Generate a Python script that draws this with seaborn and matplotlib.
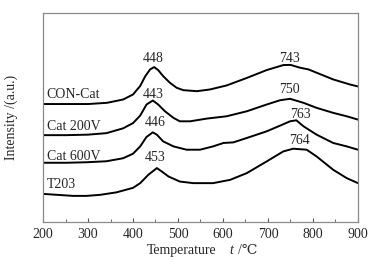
import numpy as np
import pandas as pd
import matplotlib
matplotlib.use("Agg")
import matplotlib.pyplot as plt
import seaborn as sns
from matplotlib.ticker import MultipleLocator

# ---------- Data ----------
con_temp = [200, 252, 300, 342, 378, 400, 416, 427, 438, 447, 456, 467, 482, 497, 512, 542,
            571, 608, 653, 697, 734, 750, 771, 790, 808, 845, 882, 900]
con_int = [117.5, 117.5, 117.5, 118.7, 122, 127, 135.5, 145, 152, 154.3, 151.3, 145.3, 138.7,
           133.7, 131.3, 130.3, 132, 136, 143.5, 151.3, 156.3, 156.5, 153.7, 152, 148.7, 142,
           137, 135]

c200_temp = [200, 252, 300, 341, 378, 400, 416, 430, 444, 456, 471, 490, 504, 527, 564, 608,
             653, 697, 727, 749, 779, 808, 845, 875, 900]
c200_int = [86.5, 86.5, 87, 88.5, 93.3, 98.5, 106, 117, 121, 117, 110.3, 103.7, 100.3, 100.3,
            103, 105.3, 110.3, 117, 121.3, 122.7, 118.7, 113.7, 108.7, 105.3, 102]

c600_temp = [200, 252, 296, 341, 378, 400, 416, 430, 444, 453, 467, 490, 519, 549, 578, 601,
             623, 653, 697, 727, 749, 763, 779, 808, 845, 875, 900]
c600_int = [59, 59, 59.5, 60.5, 63.5, 68, 75.3, 84.7, 89.3, 87, 80.3, 75.3, 72, 72, 75.3, 78.7,
            79.3, 83.7, 90.3, 96, 100.3, 101.3, 95.3, 87, 78.7, 75.3, 72]

t203_temp = [200, 267, 296, 326, 363, 400, 416, 434, 453, 464, 479, 504, 534, 578, 616, 653,
             697, 734, 756, 786, 808, 845, 875, 900]
t203_int = [28, 26, 26, 27, 29.5, 34, 38.7, 47, 53.7, 50.3, 45.3, 40.3, 38.7, 38.7, 42, 48.7,
            60.3, 70.3, 73, 72, 65.3, 52, 43.7, 38.7]

series_names = ["CON-Cat", "Cat 200V", "Cat 600V", "T203"]
series_temps = [con_temp, c200_temp, c600_temp, t203_temp]
series_ints = [con_int, c200_int, c600_int, t203_int]

# peak labels: (text, x, y)
peak_labels = [("448", 445, 163), ("743", 747, 163),
               ("443", 444, 127), ("750", 747, 132),
               ("446", 450, 99), ("763", 773, 107),
               ("453", 450, 64), ("764", 770, 81)]
# curve names: (x, y)
name_pos = [(208, 127), (208, 95.3), (208, 65.3), (208, 37)]

frames = []
for name, t, v in zip(series_names, series_temps, series_ints):
    frames.append(pd.DataFrame({"Temperature": t, "Intensity": v, "Sample": name}))
df = pd.concat(frames, ignore_index=True)

# ---------- Plot ----------
sns.set_theme(style="ticks")
plt.rcParams["font.family"] = ["Liberation Serif", "DejaVu Serif"]

fig = plt.figure(figsize=(3.79, 2.62), dpi=100)
ax = fig.add_axes([0.1135, 0.1527, 0.831, 0.797])

sns.lineplot(data=df, x="Temperature", y="Intensity", units="Sample", estimator=None,
             color="black", linewidth=1.4, sort=False, ax=ax)

for txt, x, y in peak_labels:
    ax.text(x, y, txt, ha="center", va="center", fontsize=10)
for name, (x, y) in zip(series_names, name_pos):
    ax.text(x, y, name, ha="left", va="center", fontsize=10)

ax.set_xlim(200, 900)
ax.set_ylim(0, 208)
ax.xaxis.set_major_locator(MultipleLocator(100))
ax.xaxis.set_minor_locator(MultipleLocator(50))
ax.tick_params(axis="x", which="major", direction="in", length=3, width=0.8,
               color="#555555", labelsize=10, pad=4)
ax.tick_params(axis="x", which="minor", direction="in", length=2, width=0.6, color="#555555")
ax.set_yticks([])
for sp in ax.spines.values():
    sp.set_visible(True)
    sp.set_color("#8a8a8a")
    sp.set_linewidth(0.9)

ax.set_xlabel("")
ax.set_ylabel("Intensity /(a.u.)", fontsize=10)
ax.yaxis.set_label_coords(-0.079, 0.5)

fig.text(0.48, 0.043, "Temperature", ha="center", va="center", fontsize=10)
fig.text(0.606, 0.043, "t", ha="left", va="center", fontsize=10, style="italic")
fig.text(0.627, 0.043, "/℃", ha="left", va="center", fontsize=10)

fig.savefig("out.png", dpi=100, facecolor="white")
